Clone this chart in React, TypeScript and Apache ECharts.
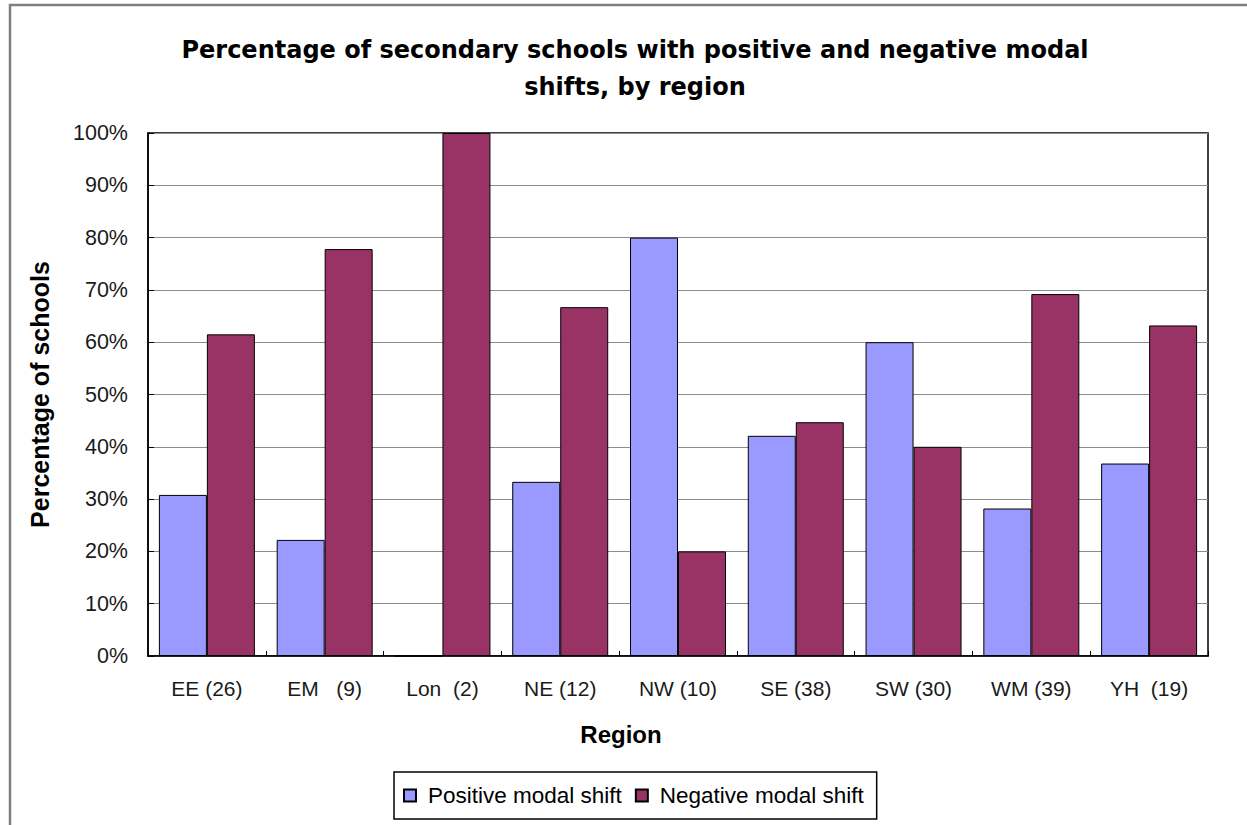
import React, { useEffect, useRef } from "react";
import * as echarts from "echarts";

// Regions with the number of schools surveyed in each
const regions = [
  "EE (26)",
  "EM   (9)",
  "Lon  (2)",
  "NE (12)",
  "NW (10)",
  "SE (38)",
  "SW (30)",
  "WM (39)",
  "YH  (19)",
];

// Share of schools (%) showing each kind of modal shift
const positiveShift = [30.8, 22.2, 0, 33.3, 80.0, 42.1, 60.0, 28.2, 36.8];
const negativeShift = [61.5, 77.8, 100, 66.7, 20.0, 44.7, 40.0, 69.2, 63.2];

const seriesNames = ["Positive modal shift", "Negative modal shift"];
const titleText =
  "Percentage of secondary schools with positive and negative modal\nshifts, by region";

const FONT = "'Liberation Sans', Arial, sans-serif";
const TITLE_FONT = "'DejaVu Sans', 'Liberation Sans', sans-serif";

export default function App() {
  const ref = useRef<HTMLDivElement>(null);

  useEffect(() => {
    if (!ref.current) return;
    const chart = echarts.init(ref.current, null, { renderer: "svg" });
    chart.setOption({
      animation: false,
      backgroundColor: "#ffffff",
      textStyle: { fontFamily: FONT },
      title: {
        text: titleText,
        left: 630,
        top: 26,
        textAlign: "center",
        textStyle: {
          fontFamily: TITLE_FONT,
          fontSize: 24,
          fontWeight: "bold",
          lineHeight: 37,
          color: "#000",
        },
      },
      graphic: [
        {
          type: "polyline",
          shape: { points: [[10, 825], [10, 5], [1247, 5]] },
          style: { stroke: "#7f7f7f", lineWidth: 2.5, fill: "none" },
          silent: true,
        },
      ],
      legend: {
        data: seriesNames,
        left: 394,
        top: 772,
        orient: "horizontal",
        icon: "rect",
        itemWidth: 12,
        itemHeight: 12,
        itemGap: 13,
        padding: [12, 13, 12, 9],
        borderColor: "#000",
        borderWidth: 1.5,
        textStyle: {
          fontFamily: FONT,
          fontSize: 22.5,
          color: "#000",
          padding: [0, 0, 0, 7],
        },
      },
      grid: {
        left: 148,
        right: 39,
        top: 133,
        bottom: 169,
        show: true,
        borderColor: "#000",
        borderWidth: 1.5,
        backgroundColor: "#fff",
      },
      xAxis: {
        type: "category",
        data: regions,
        name: "Region",
        nameLocation: "middle",
        nameGap: 66,
        nameTextStyle: {
          fontFamily: FONT,
          fontSize: 24,
          fontWeight: "bold",
          color: "#000",
          padding: [0, 114, 0, 0],
        },
        axisLine: { lineStyle: { color: "#000", width: 1.5 } },
        axisTick: {
          show: true,
          inside: true,
          length: 5,
          lineStyle: { color: "#000" },
        },
        axisLabel: {
          fontFamily: FONT,
          fontSize: 21,
          color: "#1a1a1a",
          margin: 22,
        },
      },
      yAxis: {
        type: "value",
        min: 0,
        max: 100,
        interval: 10,
        name: "Percentage of schools",
        nameLocation: "middle",
        nameGap: 96,
        nameTextStyle: {
          fontFamily: FONT,
          fontSize: 25,
          fontWeight: "bold",
          color: "#000",
        },
        axisLine: { show: true, lineStyle: { color: "#000", width: 1.5 } },
        axisTick: {
          show: true,
          inside: true,
          length: 6,
          lineStyle: { color: "#000" },
        },
        axisLabel: {
          formatter: "{value}%",
          fontFamily: FONT,
          fontSize: 21.5,
          color: "#1a1a1a",
          margin: 20,
        },
        splitLine: { show: true, lineStyle: { color: "#8c8c8c", width: 1 } },
      },
      series: [
        {
          name: seriesNames[0],
          type: "bar",
          data: positiveShift,
          barGap: "0%",
          barCategoryGap: "18.5%",
          itemStyle: { color: "#9999ff", borderColor: "#000", borderWidth: 1 },
        },
        {
          name: seriesNames[1],
          type: "bar",
          data: negativeShift,
          itemStyle: { color: "#993366", borderColor: "#000", borderWidth: 1 },
        },
      ],
    });
    return () => chart.dispose();
  }, []);

  return (
    <div
      ref={ref}
      style={{ position: "absolute", left: 0, top: 0, width: 1247, height: 825 }}
    />
  );
}
